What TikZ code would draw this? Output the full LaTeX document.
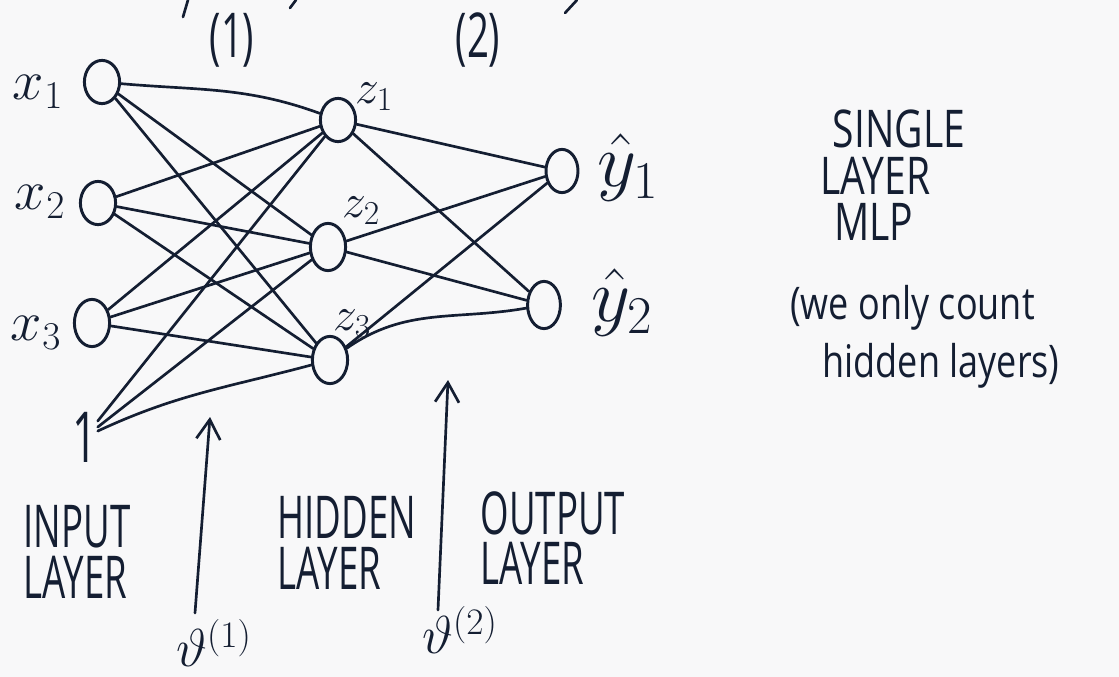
\RequirePackage{fix-cm}
\documentclass[tikz,border=0pt]{standalone}
\usepackage{fontspec}
\usetikzlibrary{shapes.geometric,arrows.meta}
\newfontfamily\handA[FakeStretch=0.62]{Open Sans}
\newfontfamily\handR[FakeStretch=0.75]{Open Sans}
\newfontfamily\handW[FakeStretch=0.8]{Open Sans}
\definecolor{ink}{RGB}{20,30,50}
\definecolor{paper}{RGB}{248,248,249}
\begin{document}
\begin{tikzpicture}[x=0.025cm,y=-0.025cm,
  neuron/.style={ellipse,draw=ink,line width=2.1pt,minimum width=0.88cm,minimum height=1.08cm,inner sep=0pt},
  edge/.style={draw=ink,line width=1.9pt,line cap=round},
  hand/.style={text=ink,inner sep=0pt,font=\handA\fontsize{42}{36}\selectfont,align=left},
  handr/.style={text=ink,inner sep=0pt,font=\handR\fontsize{37}{33}\selectfont,align=left},
  handw/.style={text=ink,inner sep=0pt,font=\handW\fontsize{32}{41}\selectfont,align=left},
  mathlbl/.style={text=ink,inner sep=0pt,font=\fontsize{40}{44}\selectfont},
  zlbl/.style={text=ink,inner sep=0pt,font=\fontsize{34}{36}\selectfont},
  ylbl/.style={text=ink,inner sep=0pt,font=\fontsize{54}{60}\selectfont},
  pointer/.style={draw=ink,line width=1.9pt,line cap=round,-{Straight Barb[length=14pt,width=17pt]}}]
\fill[paper] (0,0) rectangle (1119,677);
\useasboundingbox (0,0) rectangle (1119,677);

% stray strokes at the top edge
\draw[edge] (183,17) -- (188,0);
\draw[edge] (290,8) -- (296,0);
\draw[edge] (565,13) -- (577,0);

% layer indices
\node[hand,font=\handA\fontsize{44}{44}\selectfont] (i1) at (232,40) {(1)};
\node[hand,font=\handA\fontsize{44}{44}\selectfont] (i2) at (478,40) {(2)};

% neurons
\node[neuron] (x1) at (102,82) {};
\node[neuron] (x2) at (98,203) {};
\node[neuron,minimum height=1.18cm] (x3) at (92,323) {};
\node[hand,font=\handA\fontsize{50}{50}\selectfont] (b) at (85,437) {1};
\node[neuron] (z1) at (338,120) {};
\node[neuron,minimum height=1.18cm] (z2) at (328,247) {};
\node[neuron,minimum height=1.18cm] (z3) at (330,360) {};
\node[neuron,minimum width=0.8cm] (y1) at (562,171) {};
\node[neuron,minimum width=0.82cm,minimum height=1.18cm] (y2) at (544,305) {};

% labels
\node[mathlbl] (lx1) at (38,92) {$x_1$};
\node[mathlbl] (lx2) at (40,202) {$x_2$};
\node[mathlbl] (lx3) at (36,333) {$x_3$};
\node[zlbl] (lz1) at (374,97) {$z_1$};
\node[zlbl] (lz2) at (361,211) {$z_2$};
\node[zlbl] (lz3) at (352,324) {$z_3$};
\node[ylbl] (ly1) at (628,168) {$\hat{y}_1$};
\node[ylbl] (ly2) at (622,303) {$\hat{y}_2$};

% input -> hidden
\draw[edge] (x1) to[out=-5,in=160] (z1);
\draw[edge] (x1) -- (z2);
\draw[edge] (x1) -- (z3);
\draw[edge] (x2) -- (z1);
\draw[edge] (x2) -- (z2);
\draw[edge] (x2) -- (z3);
\draw[edge] (x3) -- (z1);
\draw[edge] (x3) -- (z2);
\draw[edge] (x3) -- (z3);
\draw[edge] (b) -- (z1);
\draw[edge] (b) -- (z2);
\draw[edge] (b) to[out=25,in=195] (z3);

% hidden -> output
\draw[edge] (z1) -- (y1);
\draw[edge] (z1) -- (y2);
\draw[edge] (z2) -- (y1);
\draw[edge] (z2) -- (y2);
\draw[edge] (z3) -- (y1);
\draw[edge] (z3) to[out=35,in=190] (y2);

% weight pointers
\coordinate (a1s) at (195,613);
\coordinate (a1e) at (210,417);
\draw[pointer] (a1s) -- (a1e);
\coordinate (a2s) at (438,610);
\coordinate (a2e) at (448,380);
\draw[pointer] (a2s) -- (a2e);
\node[mathlbl,font=\fontsize{38}{40}\selectfont] (w1) at (214,643) {$\vartheta^{(1)}$};
\node[mathlbl,font=\fontsize{38}{40}\selectfont] (w2) at (460,630) {$\vartheta^{(2)}$};

% layer names
\node[hand] (lin) at (77,552) {INPUT\\LAYER};
\node[hand] (lhid) at (347,543) {HIDDEN\\LAYER};
\node[hand] (lout) at (553,538) {OUTPUT\\LAYER};

% side note
\node[handr,anchor=north west] (s1) at (820,110) {\hspace*{9pt}SINGLE\\LAYER\\\hspace*{10pt}MLP};
\node[handw,anchor=north west] (s4) at (790,285) {(we only count\\\hspace*{23pt}hidden layers)};
\end{tikzpicture}
\end{document}
